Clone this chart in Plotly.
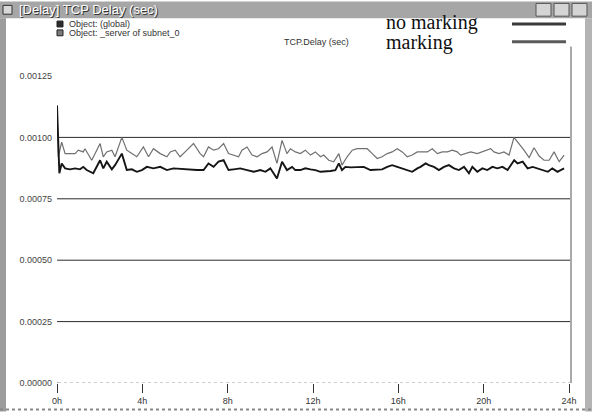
import plotly.graph_objects as go

# ---------------- data ----------------
tick_vals_y = [0.0, 0.00025, 0.0005, 0.00075, 0.001, 0.00125]
tick_text_y = ["0.00000", "0.00025", "0.00050", "0.00075", "0.00100", "0.00125"]
tick_vals_x = [0, 4, 8, 12, 16, 20, 24]
tick_text_x = ["0h", "4h", "8h", "12h", "16h", "20h", "24h"]
grid_vals = [0.00025, 0.0005, 0.00075, 0.001]

# "marking" (grey, upper series)
hours_marking = [
    0.00, 0.06, 0.22, 0.38, 0.85, 1.00, 1.23, 1.31, 1.63, 2.02,
    2.17, 2.33, 2.57, 2.72, 3.04, 3.27, 3.51, 3.74, 4.05, 4.29,
    4.52, 4.84, 5.15, 5.31, 5.54, 5.77, 6.09, 6.40, 6.71, 6.87,
    7.10, 7.34, 7.57, 7.81, 8.04, 8.28, 8.51, 8.67, 8.91, 9.14,
    9.38, 9.61, 9.85, 10.08, 10.31, 10.55, 10.78, 10.94, 11.17, 11.41,
    11.64, 11.88, 12.11, 12.35, 12.50, 12.74, 12.97, 13.21, 13.36, 13.60,
    13.84, 14.07, 14.54, 14.78, 15.01, 15.24, 15.48, 15.71, 15.95, 16.18,
    16.42, 16.65, 16.89, 17.12, 17.36, 17.59, 17.83, 18.06, 18.30, 18.53,
    18.76, 18.92, 19.15, 19.39, 19.70, 19.94, 20.17, 20.33, 20.48, 20.72,
    20.95, 21.19, 21.42, 21.66, 21.89, 22.13, 22.36, 22.60, 22.83, 23.07,
    23.30, 23.54, 23.77]
delay_marking = [
    0.001130, 0.000921, 0.000981, 0.000934, 0.000934, 0.000948, 0.000941, 0.000954, 0.000907, 0.000975,
    0.000921, 0.000941, 0.000948, 0.000921, 0.001000, 0.000948, 0.000934, 0.000921, 0.000961, 0.000921,
    0.000954, 0.000934, 0.000921, 0.000941, 0.000948, 0.000921, 0.000948, 0.000975, 0.000934, 0.000921,
    0.000961, 0.000948, 0.000954, 0.000975, 0.000934, 0.000928, 0.000921, 0.000948, 0.000961, 0.000928,
    0.000921, 0.000934, 0.000941, 0.000961, 0.000894, 0.000988, 0.000934, 0.000954, 0.000941, 0.000934,
    0.000948, 0.000928, 0.000941, 0.000921, 0.000928, 0.000907, 0.000901, 0.000934, 0.000887, 0.000921,
    0.000948, 0.000954, 0.000954, 0.000934, 0.000914, 0.000921, 0.000934, 0.000941, 0.000954, 0.000941,
    0.000921, 0.000928, 0.000941, 0.000941, 0.000941, 0.000954, 0.000934, 0.000941, 0.000941, 0.000948,
    0.000941, 0.000928, 0.000934, 0.000941, 0.000934, 0.000941, 0.000948, 0.000954, 0.000941, 0.000934,
    0.000941, 0.000928, 0.001000, 0.000975, 0.000948, 0.000918, 0.000958, 0.000924, 0.000907, 0.000907,
    0.000941, 0.000901, 0.000928]

# "no marking" (black, lower series)
hours_nomarking = [
    0.00, 0.11, 0.22, 0.38, 0.61, 0.85, 1.08, 1.23, 1.39, 1.70,
    2.02, 2.17, 2.33, 2.57, 2.72, 3.04, 3.27, 3.51, 3.74, 3.98,
    4.21, 4.52, 4.84, 5.15, 5.46, 5.93, 6.24, 6.56, 6.87, 7.10,
    7.34, 7.57, 7.81, 8.04, 8.28, 8.59, 8.91, 9.22, 9.53, 9.77,
    10.00, 10.31, 10.55, 10.78, 11.02, 11.17, 11.41, 11.64, 11.88, 12.11,
    12.35, 12.58, 12.82, 13.05, 13.21, 13.36, 13.52, 13.76, 14.07, 14.38,
    14.69, 14.93, 15.24, 15.48, 15.71, 15.95, 16.18, 16.42, 16.65, 16.89,
    17.04, 17.28, 17.43, 17.67, 17.90, 18.14, 18.37, 18.61, 18.84, 19.08,
    19.31, 19.47, 19.70, 19.94, 20.17, 20.41, 20.64, 20.88, 21.12, 21.43,
    21.59, 21.83, 22.06, 22.30, 22.53, 22.77, 23.01, 23.22, 23.46, 23.61,
    23.77]
delay_nomarking = [
    0.001130, 0.000854, 0.000894, 0.000874, 0.000870, 0.000874, 0.000870, 0.000880, 0.000867, 0.000854,
    0.000907, 0.000874, 0.000901, 0.000870, 0.000887, 0.000934, 0.000867, 0.000870, 0.000860, 0.000867,
    0.000880, 0.000874, 0.000880, 0.000867, 0.000874, 0.000870, 0.000867, 0.000867, 0.000867, 0.000894,
    0.000880, 0.000901, 0.000907, 0.000867, 0.000870, 0.000874, 0.000867, 0.000860, 0.000867, 0.000860,
    0.000874, 0.000833, 0.000901, 0.000867, 0.000880, 0.000867, 0.000867, 0.000874, 0.000870, 0.000867,
    0.000860, 0.000860, 0.000863, 0.000867, 0.000894, 0.000867, 0.000880, 0.000878, 0.000880, 0.000880,
    0.000867, 0.000867, 0.000870, 0.000880, 0.000887, 0.000880, 0.000874, 0.000867, 0.000860, 0.000874,
    0.000880, 0.000894, 0.000887, 0.000880, 0.000867, 0.000880, 0.000887, 0.000874, 0.000867, 0.000880,
    0.000854, 0.000880, 0.000860, 0.000874, 0.000867, 0.000880, 0.000874, 0.000880, 0.000867, 0.000907,
    0.000894, 0.000901, 0.000874, 0.000880, 0.000874, 0.000867, 0.000860, 0.000874, 0.000860, 0.000867,
    0.000874]

window_title = "[Delay] TCP Delay (sec)"
legend_objects = ["Object: (global)", "Object: _server of subnet_0"]
panel_title = "TCP.Delay (sec)"
series_labels = ["no marking", "marking"]

# ---------------- layout helpers ----------------
W, H = 592, 418
L, R, T, B = 57, 569, 76, 389  # plot area in pixels


def px(x):
    return (x - L) / (R - L)


def py(y):
    return (B - y) / (B - T)


SANS = "Liberation Sans, Arial, sans-serif"
SERIF = "Liberation Serif, Times New Roman, serif"

fig = go.Figure()
fig.add_trace(go.Scatter(x=hours_marking, y=delay_marking, mode="lines",
                         line=dict(color="#707070", width=1.2), showlegend=False,
                         name=series_labels[1]))
fig.add_trace(go.Scatter(x=hours_nomarking, y=delay_nomarking, mode="lines",
                         line=dict(color="#151515", width=1.9), showlegend=False,
                         name=series_labels[0]))

shapes = []
# grid lines
for g in grid_vals:
    shapes.append(dict(type="line", xref="paper", yref="y", x0=px(L + 1), x1=px(R + 1), y0=g, y1=g,
                       line=dict(color="#2a2a2a", width=1), layer="below"))
# zero line (dotted)
shapes.append(dict(type="line", xref="paper", yref="y", x0=px(L + 1), x1=px(R + 1), y0=0, y1=0,
                   line=dict(color="#9a9a9a", width=1, dash="dot"), layer="below"))
# right frame line
shapes.append(dict(type="line", xref="paper", yref="paper", x0=px(R + 2), x1=px(R + 2), y0=0, y1=py(46),
                   line=dict(color="#555555", width=1), layer="below"))
# small y tick marks at the left
for g in [0.0] + grid_vals:
    shapes.append(dict(type="line", xref="paper", yref="y", x0=px(L), x1=px(L + 1), y0=g, y1=g,
                       line=dict(color="#333", width=1)))

# window chrome: title bar
shapes.append(dict(type="rect", xref="paper", yref="paper", x0=px(0), x1=px(W), y0=py(0), y1=py(17),
                   fillcolor="#a6a6a6", line=dict(width=0)))
# title bar icon
shapes.append(dict(type="rect", xref="paper", yref="paper", x0=px(3), x1=px(12), y0=py(4), y1=py(13),
                   fillcolor="#d8d8d8", line=dict(color="#333", width=1)))
# window buttons
for bx in (536, 554, 572):
    shapes.append(dict(type="rect", xref="paper", yref="paper", x0=px(bx), x1=px(bx + 15),
                       y0=py(2), y1=py(15), fillcolor="#d4d4d4", line=dict(color="#555", width=1)))
# left / right / bottom borders
shapes.append(dict(type="rect", xref="paper", yref="paper", x0=px(0), x1=px(6), y0=py(17), y1=py(H),
                   fillcolor="#9c9c9c", line=dict(width=0)))
shapes.append(dict(type="rect", xref="paper", yref="paper", x0=px(585), x1=px(W), y0=py(17), y1=py(H),
                   fillcolor="#b4b4b4", line=dict(width=0)))
shapes.append(dict(type="line", xref="paper", yref="paper", x0=px(0), x1=px(W), y0=py(416), y1=py(416),
                   line=dict(color="#888", width=2, dash="dot")))
# legend marker squares
for yy, col in ((23, "#2b2b2b"), (32, "#7a7a7a")):
    shapes.append(dict(type="rect", xref="paper", yref="paper", x0=px(57), x1=px(63),
                       y0=py(yy - 3), y1=py(yy + 3), fillcolor=col, line=dict(color="#222", width=1)))
# series sample bars on the right
for yy, col in ((23, "#3a3a3a"), (41, "#5a5a5a")):
    shapes.append(dict(type="rect", xref="paper", yref="paper", x0=px(512), x1=px(566),
                       y0=py(yy - 1.5), y1=py(yy + 1.5), fillcolor=col, line=dict(width=0)))

annotations = []
# title with a dark shadow
annotations.append(dict(x=px(18), y=py(9.5), xref="paper", yref="paper", text=window_title,
                        showarrow=False, xanchor="left", yanchor="middle",
                        font=dict(family=SANS, size=13, color="#333333")))
annotations.append(dict(x=px(17), y=py(8.5), xref="paper", yref="paper", text=window_title,
                        showarrow=False, xanchor="left", yanchor="middle",
                        font=dict(family=SANS, size=13, color="#ffffff")))
for yy, txt in ((23, legend_objects[0]), (32, legend_objects[1])):
    annotations.append(dict(x=px(67), y=py(yy), xref="paper", yref="paper", text=txt,
                            showarrow=False, xanchor="left", yanchor="middle",
                            font=dict(family=SANS, size=9, color="#333")))
annotations.append(dict(x=px(316), y=py(41), xref="paper", yref="paper", text=panel_title,
                        showarrow=False, xanchor="center", yanchor="middle",
                        font=dict(family=SANS, size=9, color="#333")))
annotations.append(dict(x=px(384), y=py(21), xref="paper", yref="paper", text=series_labels[0],
                        showarrow=False, xanchor="left", yanchor="middle",
                        font=dict(family=SERIF, size=20, color="#111")))
annotations.append(dict(x=px(384), y=py(42), xref="paper", yref="paper", text=series_labels[1],
                        showarrow=False, xanchor="left", yanchor="middle",
                        font=dict(family=SERIF, size=20, color="#111")))

fig.update_layout(
    width=W, height=H,
    margin=dict(l=L, r=W - R, t=T, b=H - B),
    paper_bgcolor="white", plot_bgcolor="white",
    shapes=shapes, annotations=annotations,
    xaxis=dict(range=[0, 24], tickvals=tick_vals_x, ticktext=tick_text_x, showgrid=False,
               zeroline=False, showline=False, ticks="outside", ticklen=9, tickcolor="#333",
               tickfont=dict(family=SANS, size=9, color="#333")),
    yaxis=dict(range=[0, 0.00125], tickvals=tick_vals_y, ticktext=tick_text_y, showgrid=False,
               zeroline=False, showline=False, ticks="", ticklabelstandoff=4,
               tickfont=dict(family=SANS, size=9, color="#444")),
)

fig.write_html("out.html", config={"displayModeBar": False},
               post_script="document.body.style.margin='0';document.body.style.overflow='hidden';")
